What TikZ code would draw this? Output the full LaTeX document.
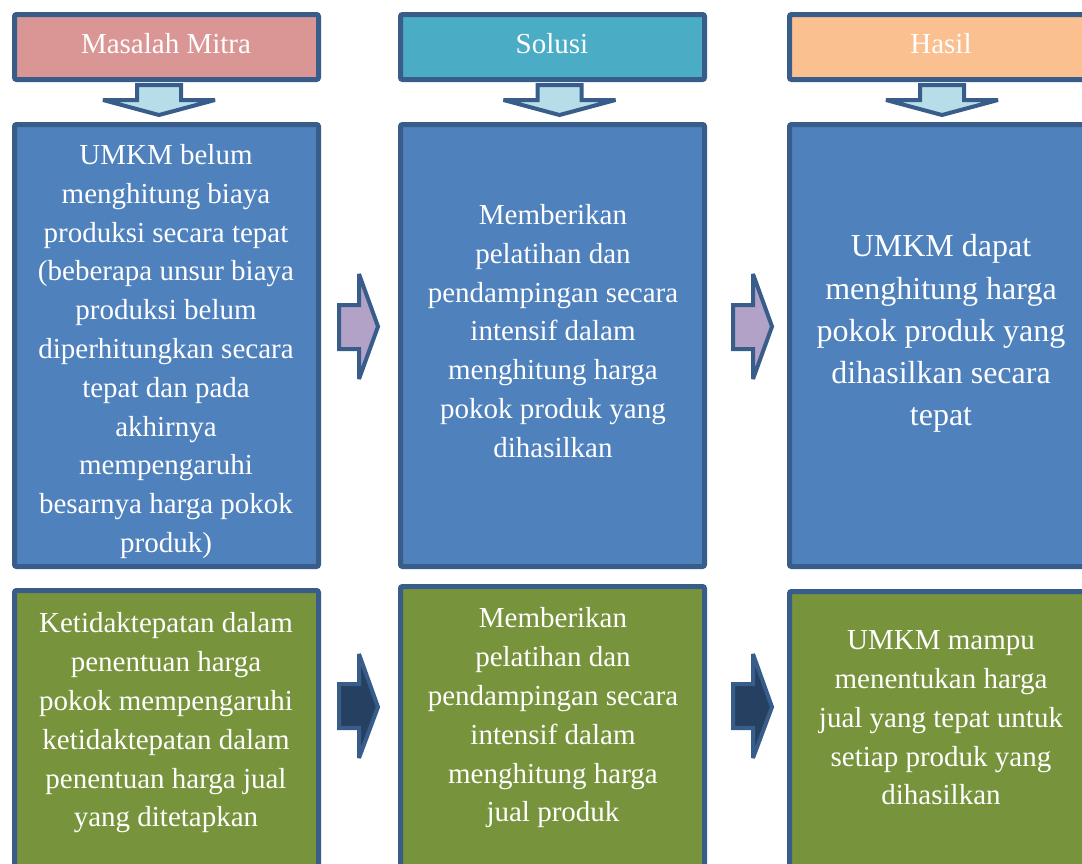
\documentclass[tikz,border=0pt]{standalone}
\usepackage{fontspec}
\setmainfont{Liberation Serif}
\definecolor{bord}{HTML}{385D8A}
\definecolor{blueF}{HTML}{4F81BD}
\definecolor{greenF}{HTML}{77933C}
\definecolor{pinkF}{HTML}{D99694}
\definecolor{tealF}{HTML}{4BACC6}
\definecolor{orangeF}{HTML}{FAC090}
\definecolor{lightF}{HTML}{B7DEE8}
\definecolor{purpF}{HTML}{B3A2C7}
\definecolor{navyF}{HTML}{254061}
\begin{document}
\begin{tikzpicture}[x=1pt,y=-1pt,
  box/.style={draw=bord,line width=5pt,rounded corners=2pt},
  arrowshape/.style={draw=bord,line width=4pt,line join=miter,miter limit=3},
  txt/.style={text=white,align=center,inner sep=0pt},
  fmain/.style={font=\fontsize{29}{38.8}\selectfont},
  fbig/.style={font=\fontsize{32}{42.2}\selectfont}]
\useasboundingbox (0,0) rectangle (1082,863);
% header boxes
\draw[box,fill=pinkF] (14.5,14.5) rectangle (318.5,79.5);
\draw[box,fill=tealF] (400.5,14.5) rectangle (704.5,79.5);
\draw[box,fill=orangeF] (789.5,14.5) rectangle (1092.5,79.5);
% blue boxes
\draw[box,fill=blueF] (14.5,124.5) rectangle (318.5,566.5);
\draw[box,fill=blueF] (400.5,124.5) rectangle (704.5,566.5);
\draw[box,fill=blueF] (789.5,124.5) rectangle (1092.5,566.5);
% green boxes
\draw[box,fill=greenF] (14.5,590.5) rectangle (318.5,890);
\draw[box,fill=greenF] (400.5,586.5) rectangle (704.5,890);
\draw[box,fill=greenF] (789.5,591.5) rectangle (1092.5,890);
% down arrows
\foreach \cx in {159,559.5,942}{
  \draw[arrowshape,fill=lightF] (\cx-22,85) -- (\cx+22,85) -- (\cx+22,100) -- (\cx+56,100)
    -- (\cx,115) -- (\cx-56,100) -- (\cx-22,100) -- cycle;
}
% right arrows
\foreach \dx in {0,394}{
  \draw[arrowshape,fill=purpF] (339+\dx,305) -- (359+\dx,305) -- (359+\dx,274) -- (378+\dx,326.5)
    -- (359+\dx,379) -- (359+\dx,349) -- (339+\dx,349) -- cycle;
  \draw[arrowshape,fill=navyF] (339+\dx,684) -- (359+\dx,684) -- (359+\dx,654) -- (378+\dx,707)
    -- (359+\dx,758) -- (359+\dx,728) -- (339+\dx,728) -- cycle;
}
% header texts
\node[txt,fmain,anchor=base] (h1) at (166,53) {Masalah Mitra};
\node[txt,fmain,anchor=base] (h2) at (552,53) {Solusi};
\node[txt,fmain,anchor=base] (h3) at (941,53) {Hasil};
% blue texts
\node[txt,fmain] (b1) at (166,351.5) {UMKM belum\\menghitung biaya\\produksi secara tepat\\(beberapa unsur biaya\\produksi belum\\diperhitungkan secara\\tepat dan pada\\akhirnya\\mempengaruhi\\besarnya harga pokok\\produk)};
\node[txt,fmain] (b2) at (553,331) {Memberikan\\pelatihan dan\\pendampingan secara\\intensif dalam\\menghitung harga\\pokok produk yang\\dihasilkan};
\node[txt,fbig] (b3) at (941,333.5) {UMKM dapat\\menghitung harga\\pokok produk yang\\dihasilkan secara\\tepat};
% green texts
\node[txt,fmain] (g1) at (166,723) {Ketidaktepatan dalam\\penentuan harga\\pokok mempengaruhi\\ketidaktepatan dalam\\penentuan harga jual\\yang ditetapkan};
\node[txt,fmain] (g2) at (553,718) {Memberikan\\pelatihan dan\\pendampingan secara\\intensif dalam\\menghitung harga\\jual produk};
\node[txt,fmain] (g3) at (941,718) {UMKM mampu\\menentukan harga\\jual yang tepat untuk\\setiap produk yang\\dihasilkan};
\end{tikzpicture}
\end{document}
